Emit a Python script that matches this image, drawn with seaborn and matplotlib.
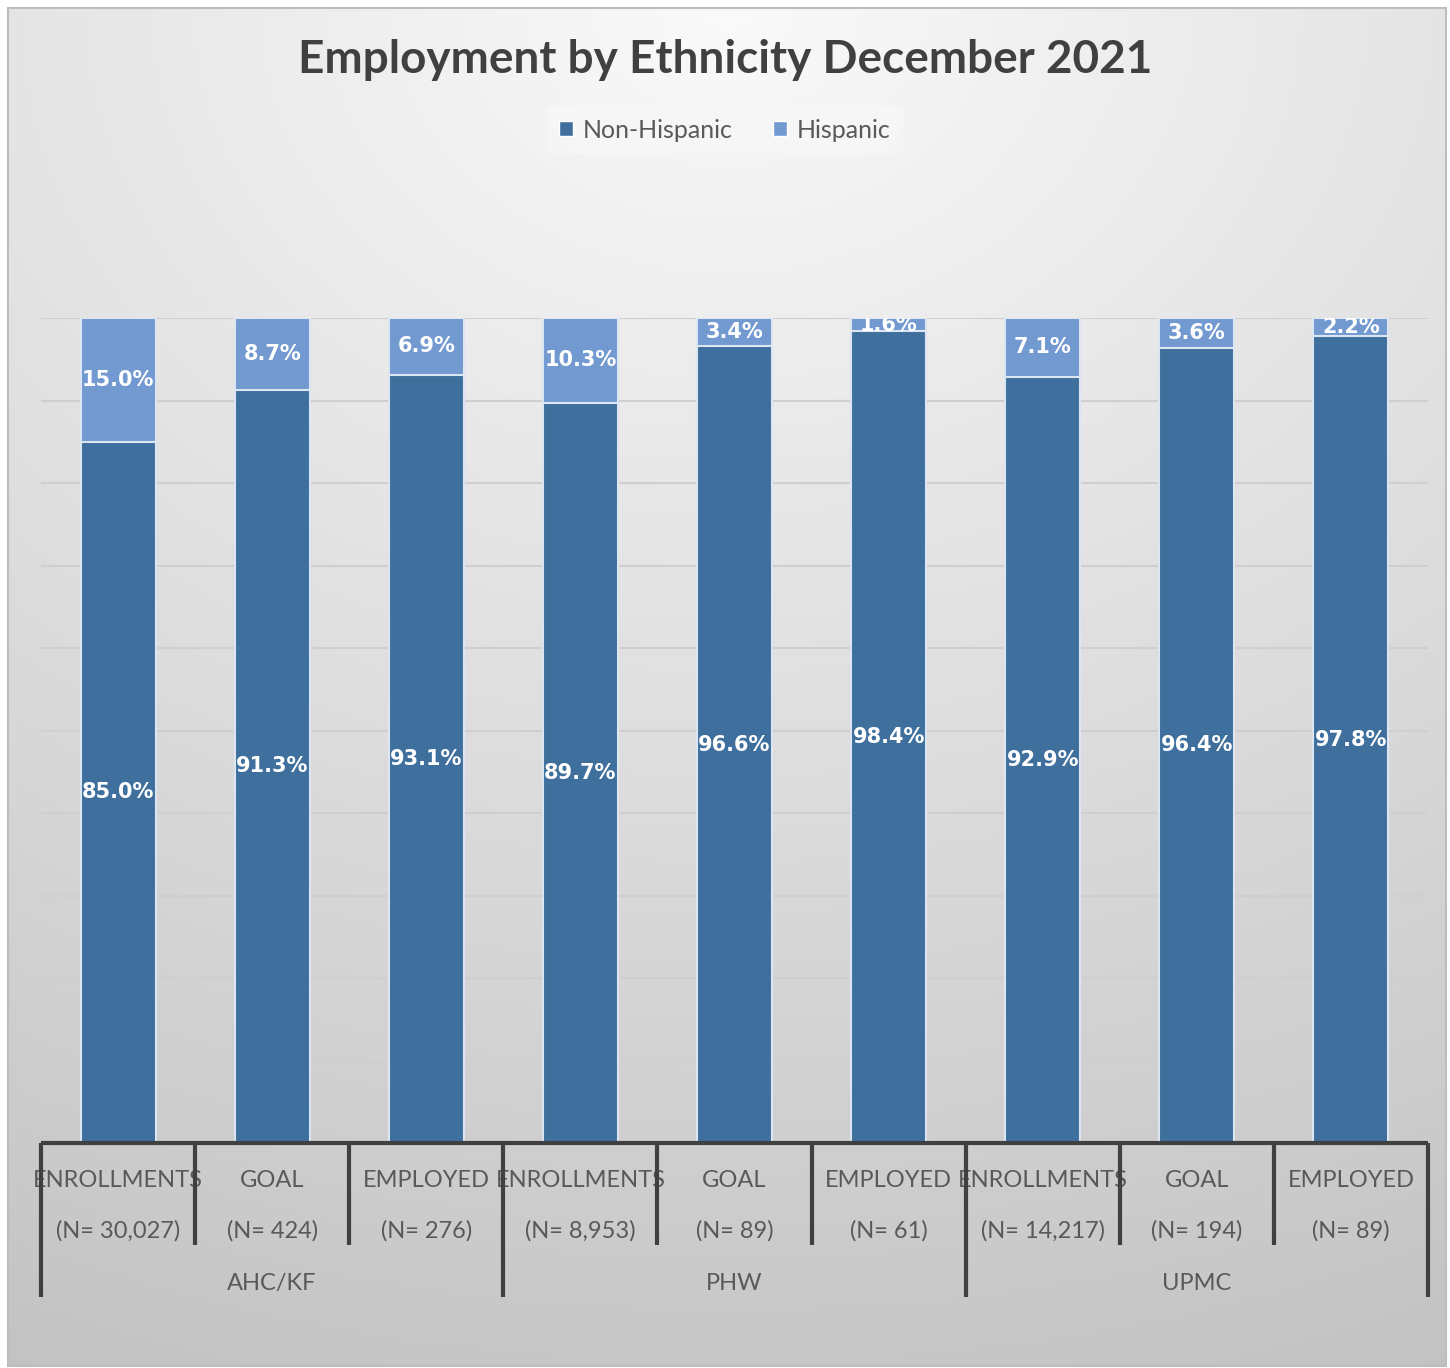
import numpy as np
import pandas as pd
import matplotlib
matplotlib.use("Agg")
import matplotlib.pyplot as plt
import seaborn as sns
from matplotlib.patches import Rectangle, Patch

# Chart data
groups = ["AHC/KF", "PHW", "UPMC"]
stages = ["ENROLLMENTS", "GOAL", "EMPLOYED"]
n_labels = ["(N= 30,027)", "(N= 424)", "(N= 276)",
            "(N= 8,953)", "(N= 89)", "(N= 61)",
            "(N= 14,217)", "(N= 194)", "(N= 89)"]
non_hispanic = [85.0, 91.3, 93.1, 89.7, 96.6, 98.4, 92.9, 96.4, 97.8]
hispanic = [15.0, 8.7, 6.9, 10.3, 3.4, 1.6, 7.1, 3.6, 2.2]

C_NON = "#3f6f9d"
C_HIS = "#7399d1"
EDGE = "#dce6f2"
TXT = "#595959"
AXC = "#404040"

sns.set_theme(style="white")
plt.rcParams["font.family"] = ["Lato", "DejaVu Sans"]

cats = [f"{g}|{s}" for g in groups for s in stages]
df = pd.DataFrame({
    "cat": cats,
    "non": non_hispanic,
    "his": hispanic,
})
df["total"] = df["non"] + df["his"]

W, H = 1450, 1368
fig = plt.figure(figsize=(W / 100, H / 100), dpi=100)

# Soft background: light at the top centre, darker toward the bottom
bg = fig.add_axes([0, 0, 1, 1], zorder=-10)
yy, xx = np.mgrid[0:1:400j, 0:1:400j]
r = np.sqrt(((xx - 0.5) / 1.2) ** 2 + yy ** 2)
shade = np.clip(0.98 - 0.2 * r, 0, 1)
bg.imshow(np.dstack([shade] * 3), extent=[8 / W, 1 - 4 / W, 2 / H, 1 - 8 / H],
          aspect="auto", origin="upper")
bg.add_patch(Rectangle((8 / W, 2 / H), 1 - 12 / W, 1 - 10 / H, fill=False,
                       edgecolor="#bdbdbd", lw=1.5))
bg.set_xlim(0, 1)
bg.set_ylim(0, 1)
bg.axis("off")

ax = fig.add_axes([41 / W, 1 - 1143 / H, 1387 / W, 825 / H])
ax.patch.set_alpha(0)

bw = 75 / 154
sns.barplot(data=df, x="cat", y="total", color=C_HIS, width=bw,
            edgecolor=EDGE, linewidth=1.5, saturation=1, ax=ax, zorder=3)
sns.barplot(data=df, x="cat", y="non", color=C_NON, width=bw,
            edgecolor=EDGE, linewidth=1.5, saturation=1, ax=ax, zorder=4)

ax.set_xlim(-0.5, len(cats) - 0.5)
ax.set_ylim(0, 100)
ax.set_yticks(np.arange(10, 101, 10))
ax.yaxis.grid(True, color="#cfcfcf", lw=1.5, zorder=0)
ax.set_axisbelow(True)
ax.set_yticklabels([])
ax.tick_params(left=False, bottom=False)
ax.set_xticks([])
ax.set_xlabel("")
ax.set_ylabel("")
for s in ax.spines.values():
    s.set_visible(False)

# Value labels
lab_font = dict(family="DejaVu Sans", weight="bold", color="white", fontsize=15,
                ha="center", va="center", zorder=6)
for i, (nv, hv) in enumerate(zip(non_hispanic, hispanic)):
    ax.text(i, nv / 2, f"{nv:.1f}%", **lab_font)
    t = ax.text(i, nv + hv / 2, f"{hv:.1f}%", **lab_font)
    t.set_clip_on(True)

# Multi-level category axis
xt = ax.get_xaxis_transform()
ax.plot([-0.5, len(cats) - 0.5], [0, 0], color=AXC, lw=3, transform=xt,
        clip_on=False, zorder=7, solid_capstyle="butt")
for b in range(len(cats) + 1):
    x = b - 0.5
    low = -0.1867 if b % 3 == 0 else -0.1236
    ax.plot([x, x], [0, low], color=AXC, lw=3, transform=xt, clip_on=False,
            zorder=7, solid_capstyle="butt")
for i in range(len(cats)):
    ax.text(i, -0.0460, stages[i % 3], transform=xt, ha="center", va="center",
            fontsize=17, color=TXT)
    ax.text(i, -0.1067, n_labels[i], transform=xt, ha="center", va="center",
            fontsize=17, color=TXT)
for g, name in enumerate(groups):
    ax.text(g * 3 + 1, -0.1697, name, transform=xt, ha="center", va="center",
            fontsize=17, color=TXT)

fig.text(0.5, 1 - 60 / H, "Employment by Ethnicity December 2021",
         ha="center", va="center", fontsize=33, weight="bold", color=AXC)

handles = [Patch(facecolor=C_NON, label="Non-Hispanic"),
           Patch(facecolor=C_HIS, label="Hispanic")]
leg = fig.legend(handles=handles, loc="center", bbox_to_anchor=(0.5, 1 - 130 / H),
                 ncol=2, frameon=True, fontsize=18, handlelength=0.55,
                 handleheight=0.55, handletextpad=0.4, columnspacing=1.6,
                 borderpad=0.5)
leg.get_frame().set_facecolor("#f7f7f7")
leg.get_frame().set_edgecolor("none")
for t in leg.get_texts():
    t.set_color(TXT)

fig.savefig("out.png", dpi=100)
